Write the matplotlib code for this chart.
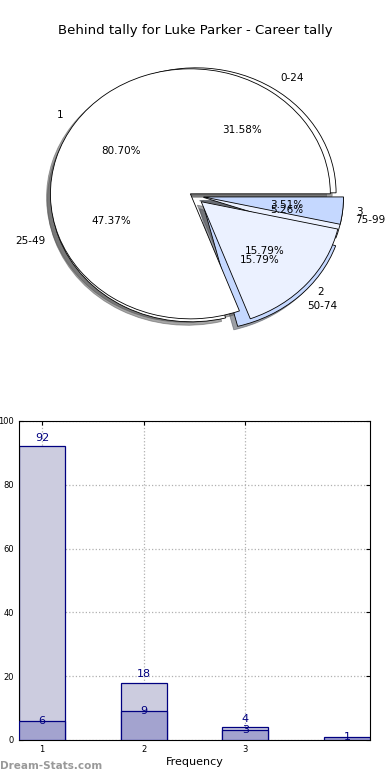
import matplotlib
matplotlib.use('Agg')
import matplotlib.pyplot as plt

# data
tally_labels = ['1', '2', '3']
tally_counts = [92, 18, 4]
behind_labels = ['0-24', '25-49', '50-74', '75-99']
behind_counts = [6, 9, 3, 1]

bar_x = [1, 2, 3, 4]
xtick_labels = ['1', '2', '3']

navy = '#000080'

fig = plt.figure(figsize=(3.9, 7.8), dpi=100)
fig.text(0.5, 0.961, 'Behind tally for Luke Parker - Career tally', ha='center', va='center', fontsize=9.5)

# pie part (old-style elliptical pie)
ax = fig.add_axes([0.0305, 0.5404, 0.933, 0.4167])
ax.pie(behind_counts, labels=behind_labels, explode=[0.03, 0.02, 0.1, 0.07],
       colors=['#ffffff', '#ffffff', '#c5d8ff', '#ebf1ff'], autopct='%1.2f%%',
       shadow=True, startangle=0, textprops={'fontsize': 7.5},
       wedgeprops={'edgecolor': 'black', 'linewidth': 0.6})
ax.pie(tally_counts, labels=tally_labels, explode=[0.03, 0.07, 0.07],
       colors=['#ffffff', '#ebf1ff', '#c5d8ff'], autopct='%1.2f%%',
       shadow=True, startangle=0, textprops={'fontsize': 7.5},
       wedgeprops={'edgecolor': 'black', 'linewidth': 0.6})
ax.set_aspect('auto')
ax.set_xlim(-1.3, 1.3)
ax.set_ylim(-1.3, 1.3)
ax.axis('off')

# bar part
bx = fig.add_axes([0.0487, 0.0513, 0.9, 0.409])
bx.bar(bar_x[:3], tally_counts, width=0.45, color='#ccccdf', edgecolor=navy, linewidth=0.9, zorder=2)
bx.bar(bar_x, behind_counts, width=0.45, color='#a3a3cf', edgecolor=navy, linewidth=0.9, zorder=3)
for x, v in zip(bar_x[:3], tally_counts):
    bx.text(x, v + 1, str(v), ha='center', va='bottom', color=navy, fontsize=8, zorder=4)
for x, v in zip(bar_x, behind_counts):
    bx.text(x, v, str(v), ha='center', va='center', color=navy, fontsize=8, zorder=4)

bx.set_xlim(0.775, 4.225)
bx.set_ylim(0, 100)
bx.set_xticks(bar_x[:3])
bx.set_xticklabels(xtick_labels)
bx.set_yticks(range(0, 101, 20))
bx.tick_params(direction='in', top=True, right=True, labelsize=6, length=3)
bx.grid(True, linestyle=':', color='#b0b0b0', linewidth=0.9, zorder=0)
bx.set_axisbelow(True)
bx.set_xlabel('Frequency', fontsize=8, labelpad=2)

fig.text(0.0, 0.012, 'Dream-Stats.com', color='#999999', fontsize=7.5, fontweight='bold', ha='left', va='bottom')

plt.savefig('out.png', dpi=100)
